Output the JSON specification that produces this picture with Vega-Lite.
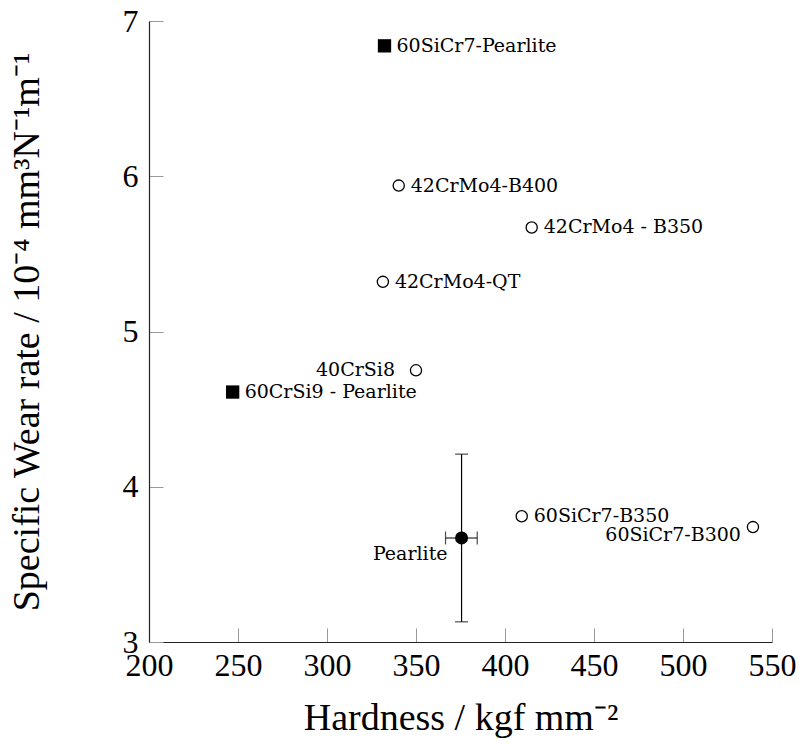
{
  "$schema": "https://vega.github.io/schema/vega-lite/v6.json",
  "width": 623,
  "height": 621,
  "autosize": {"type": "none"},
  "padding": {"left": 149, "top": 21, "right": 27, "bottom": 103},
  "background": "white",
  "config": {
    "view": {"stroke": null},
    "font": "Liberation Serif",
    "axis": {
      "grid": false,
      "domainColor": "#222",
      "domainWidth": 1.2,
      "tickColor": "#999",
      "tickSize": -14,
      "tickWidth": 1,
      "labelFont": "Liberation Serif",
      "labelFontSize": 32,
      "labelColor": "#000",
      "labelFlush": false,
      "labelOverlap": false,
      "labelBound": false,
      "titleFont": "Liberation Serif",
      "titleFontSize": 38,
      "titleFontWeight": "normal",
      "titleColor": "#000"
    }
  },
  "data": {
    "values": [
      {"name": "60SiCr7-Pearlite", "series": "pearlitic", "hardness": 332.3, "wear": 6.84},
      {"name": "42CrMo4-B400", "series": "bainitic", "hardness": 340.3, "wear": 5.94},
      {"name": "42CrMo4 - B350", "series": "bainitic", "hardness": 415, "wear": 5.67},
      {"name": "42CrMo4-QT", "series": "bainitic", "hardness": 331.4, "wear": 5.32},
      {"name": "40CrSi8", "series": "bainitic", "hardness": 350, "wear": 4.75},
      {"name": "60CrSi9 - Pearlite", "series": "pearlitic", "hardness": 247, "wear": 4.61},
      {"name": "60SiCr7-B350", "series": "bainitic", "hardness": 409.4, "wear": 3.81},
      {"name": "60SiCr7-B300", "series": "bainitic", "hardness": 539.3, "wear": 3.74},
      {"name": "Pearlite", "series": "reference", "hardness": 375.6, "wear": 3.67, "hardness_lo": 366.6, "hardness_hi": 384.4, "wear_lo": 3.13, "wear_hi": 4.21}
    ]
  },
  "encoding": {
    "x": {"field": "hardness", "type": "quantitative", "scale": {"domain": [200, 550], "nice": false, "zero": false},
      "axis": {"title": "Hardness / kgf mm⁻²", "values": [200, 250, 300, 350, 400, 450, 500, 550], "labelPadding": 22, "titlePadding": 18}},
    "y": {"field": "wear", "type": "quantitative", "scale": {"domain": [3, 7], "nice": false, "zero": false},
      "axis": {"title": "Specific Wear rate / 10⁻⁴ mm³N⁻¹m⁻¹", "values": [3, 4, 5, 6, 7], "format": "d", "labelPadding": 25, "titlePadding": 76}}
  },
  "layer": [
    {
      "transform": [{"filter": "datum.series === 'reference'"}],
      "mark": {"type": "rule", "color": "#000", "strokeWidth": 1.2},
      "encoding": {"y": {"field": "wear_lo", "type": "quantitative"}, "y2": {"field": "wear_hi"}}
    },
    {
      "transform": [{"filter": "datum.series === 'reference'"}],
      "mark": {"type": "rule", "color": "#000", "strokeWidth": 1.2},
      "encoding": {"x": {"field": "hardness_lo", "type": "quantitative"}, "x2": {"field": "hardness_hi"}}
    },
    {
      "transform": [{"filter": "datum.series === 'reference'"}],
      "mark": {"type": "tick", "orient": "horizontal", "color": "#000", "size": 13, "thickness": 1.2},
      "encoding": {"y": {"field": "wear_lo", "type": "quantitative"}}
    },
    {
      "transform": [{"filter": "datum.series === 'reference'"}],
      "mark": {"type": "tick", "orient": "horizontal", "color": "#000", "size": 13, "thickness": 1.2},
      "encoding": {"y": {"field": "wear_hi", "type": "quantitative"}}
    },
    {
      "transform": [{"filter": "datum.series === 'reference'"}],
      "mark": {"type": "tick", "orient": "vertical", "color": "#000", "size": 13, "thickness": 1.2},
      "encoding": {"x": {"field": "hardness_lo", "type": "quantitative"}}
    },
    {
      "transform": [{"filter": "datum.series === 'reference'"}],
      "mark": {"type": "tick", "orient": "vertical", "color": "#000", "size": 13, "thickness": 1.2},
      "encoding": {"x": {"field": "hardness_hi", "type": "quantitative"}}
    },
    {
      "transform": [{"filter": "datum.series === 'reference'"}],
      "mark": {"type": "point", "shape": "circle", "filled": true, "color": "#000", "size": 170, "opacity": 1}
    },
    {
      "transform": [{"filter": "datum.series === 'bainitic'"}],
      "mark": {"type": "point", "shape": "circle", "filled": false, "stroke": "#000", "fill": "#fff", "strokeWidth": 1.3, "size": 125, "opacity": 1}
    },
    {
      "transform": [{"filter": "datum.series === 'pearlitic'"}],
      "mark": {"type": "point", "shape": "square", "filled": true, "color": "#000", "size": 177, "opacity": 1}
    },
    {
      "transform": [{"filter": "indexof(['40CrSi8', '60SiCr7-B300', 'Pearlite'], datum.name) < 0"}],
      "mark": {"type": "text", "align": "left", "baseline": "middle", "dx": 12, "font": "DejaVu Serif", "fontSize": 19, "color": "#000"},
      "encoding": {"text": {"field": "name"}}
    },
    {
      "transform": [{"filter": "datum.name === '40CrSi8'"}],
      "mark": {"type": "text", "align": "right", "baseline": "middle", "dx": -21, "font": "DejaVu Serif", "fontSize": 19, "color": "#000"},
      "encoding": {"text": {"field": "name"}}
    },
    {
      "transform": [{"filter": "datum.name === '60SiCr7-B300'"}],
      "mark": {"type": "text", "align": "right", "baseline": "middle", "dx": -12, "dy": 8, "font": "DejaVu Serif", "fontSize": 19, "color": "#000"},
      "encoding": {"text": {"field": "name"}}
    },
    {
      "transform": [{"filter": "datum.name === 'Pearlite'"}],
      "mark": {"type": "text", "align": "right", "baseline": "middle", "dx": -14, "dy": 16, "font": "DejaVu Serif", "fontSize": 19, "color": "#000"},
      "encoding": {"text": {"field": "name"}}
    }
  ]
}
